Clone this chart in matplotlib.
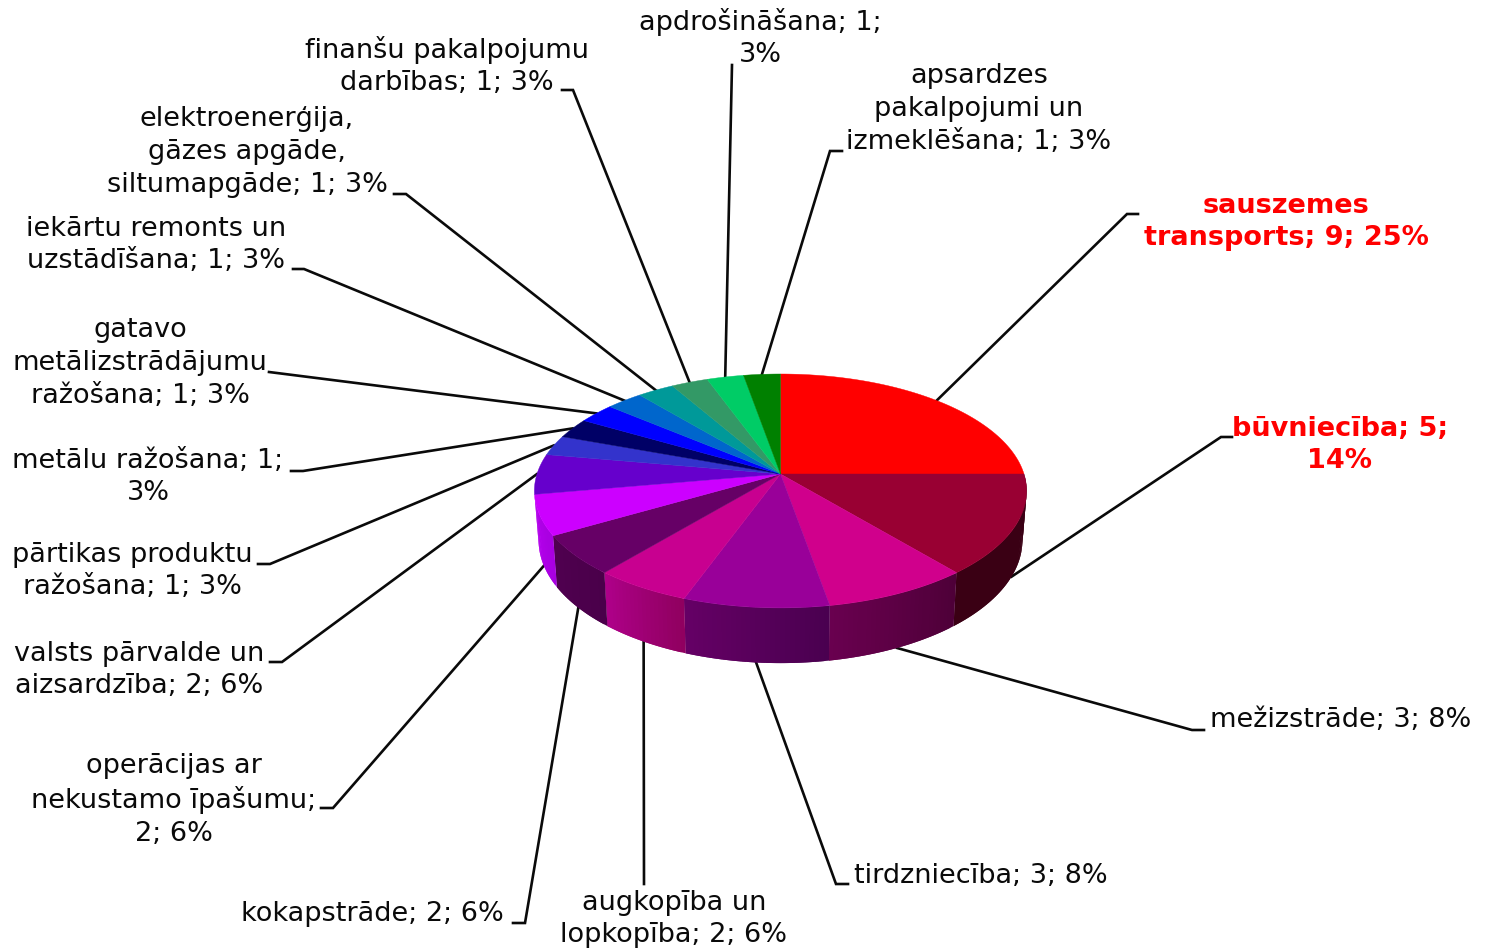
import numpy as np
import matplotlib
matplotlib.use('Agg')
import matplotlib.pyplot as plt
from matplotlib.patches import Polygon
from matplotlib.colors import to_rgb

#Chart data, clockwise from 12 o'clock
categories = ['sauszemes transports', 'būvniecība', 'mežizstrāde', 'tirdzniecība',
              'augkopība un lopkopība', 'kokapstrāde', 'operācijas ar nekustamo īpašumu',
              'valsts pārvalde un aizsardzība', 'pārtikas produktu ražošana', 'metālu ražošana',
              'gatavo metālizstrādājumu ražošana', 'iekārtu remonts un uzstādīšana',
              'elektroenerģija, gāzes apgāde, siltumapgāde', 'finanšu pakalpojumu darbības',
              'apdrošināšana', 'apsardzes pakalpojumi un izmeklēšana']
values = [9, 5, 3, 3, 2, 2, 2, 2, 1, 1, 1, 1, 1, 1, 1, 1]
labels = ['sauszemes\ntransports; 9; 25%', 'būvniecība; 5;\n14%', 'mežizstrāde; 3; 8%',
          'tirdzniecība; 3; 8%', 'augkopība un\nlopkopība; 2; 6%', 'kokapstrāde; 2; 6%',
          'operācijas ar\nnekustamo īpašumu;\n2; 6%', 'valsts pārvalde un\naizsardzība; 2; 6%',
          'pārtikas produktu\nražošana; 1; 3%', 'metālu ražošana; 1;\n3%',
          'gatavo\nmetālizstrādājumu\nražošana; 1; 3%', 'iekārtu remonts un\nuzstādīšana; 1; 3%',
          'elektroenerģija,\ngāzes apgāde,\nsiltumapgāde; 1; 3%', 'finanšu pakalpojumu\ndarbības; 1; 3%',
          'apdrošināšana; 1;\n3%', 'apsardzes\npakalpojumi un\nizmeklēšana; 1; 3%']

#Colours
topColors = ['#FF0000', '#990033', '#D0008C', '#990099', '#C80090', '#660066', '#CC00FF', '#6600CC',
             '#3333CC', '#000066', '#0000FF', '#0066CC', '#009999', '#339966', '#00CC66', '#008000']
wallStart = ['#800000', '#3A0014', '#6A0050', '#660066', '#B0008B', '#500050', '#B800F0', '#5000A0',
             '#222288', '#000044', '#0000AA', '#004488', '#006666', '#226644', '#008844', '#005500']
wallEnd = ['#800000', '#3A0014', '#4E0038', '#4A0050', '#900060', '#4A004A', '#A800E0', '#5000A0',
           '#222288', '#000044', '#0000AA', '#004488', '#006666', '#226644', '#008844', '#005500']
boldLabels = [0, 1]

#Layout in image pixels
CX, CY = 780.5, 474 #Pie apex
A, B = 243.5, 114.5 #Perspective radii
K = 0.145           #Perspective strength
X_SHRINK = 0.983    #Bottom rim is a bit narrower
Y_STRETCH = 1.05
DEPTH = 48.5
labelX = [1286, 1340, 1341, 981, 674, 372, 174, 139, 132, 148, 140, 156, 247, 447, 760, 979]
labelY = [222, 445, 720, 876, 919, 914, 800, 670, 571, 477, 363, 245, 152, 66, 38, 109]
stubX0 = [1138, 1232, 1204, 848, 644, 513, 321, 270, 258, 291, 269, 293, 394, 562, 732, 842]
stubX1 = [1127, 1221, 1192, 836, 644, 525, 333, 282, 270, 303, 269, 304, 406, 573, 732, 830]
stubY = [214, 437, 730, 884, 884, 923, 808, 662, 564, 471, 372, 269, 194, 90, 65, 151]

def rim(angle, bottom=False):
    #Angle in degrees clockwise from top -> image coordinates on the pie rim
    t = np.radians(angle)
    u, v = np.sin(t), -np.cos(t)
    w = 1 - K*v
    x = A*u/w
    y = B*v/w
    if bottom:
        x = x*X_SHRINK
        y = y*Y_STRETCH + DEPTH
    return CX + x, CY + y

plt.rcParams['font.family'] = ['DejaVu Sans']
fig = plt.figure(figsize=(14.93, 9.49), dpi=100)
ax = fig.add_axes([0, 0, 1, 1])
ax.set_xlim(0, 1493)
ax.set_ylim(949, 0)
ax.axis('off')

total = sum(values)
edges = np.concatenate(([0], np.cumsum(values))) * 360 / total

#Leader lines go under the pie
for i in range(len(values)):
    mid = (edges[i] + edges[i+1]) / 2
    front = -np.cos(np.radians(mid)) > 0.05
    ex, ey = rim(mid, bottom=front)
    ax.plot([stubX0[i], stubX1[i], ex], [stubY[i], stubY[i], ey], color='#0a0a0a', lw=1.9,
            solid_joinstyle='miter', zorder=1)

#Side wall as thin strips, shaded left to right inside each slice
#Strips overlap the next one so no seams show
for i in range(len(values)):
    lo, hi = max(edges[i], 90), min(edges[i+1], 260)
    if hi <= lo:
        continue
    for a in np.arange(lo, hi, 1.0):
        b = min(a + 2.0, hi)
        f = (a - edges[i]) / (edges[i+1] - edges[i])
        col = (1-f)*np.array(to_rgb(wallEnd[i])) + f*np.array(to_rgb(wallStart[i]))
        x0, y0 = rim(a)
        x1, y1 = rim(b)
        x2, y2 = rim(b, bottom=True)
        x3, y3 = rim(a, bottom=True)
        ax.add_patch(Polygon([[x0, y0], [x1, y1], [x2, y2], [x3, y3]], closed=True, facecolor=col,
                             edgecolor='none', zorder=2))

#Top face
for i in range(len(values)):
    angles = np.linspace(edges[i], edges[i+1], 80)
    xs, ys = rim(angles)
    pts = np.column_stack((np.concatenate(([CX], xs)), np.concatenate(([CY], ys))))
    ax.add_patch(Polygon(pts, closed=True, facecolor=topColors[i], edgecolor=topColors[i], lw=0.3, zorder=3))

#Labels
for i, txt in enumerate(labels):
    bold = i in boldLabels
    ax.text(labelX[i], labelY[i], txt, ha='center', va='center', fontsize=19.5, linespacing=1.33,
            color='#FF0000' if bold else '#0a0a0a', fontweight='bold' if bold else 'normal', zorder=4)

fig.savefig('out.png', dpi=100)
